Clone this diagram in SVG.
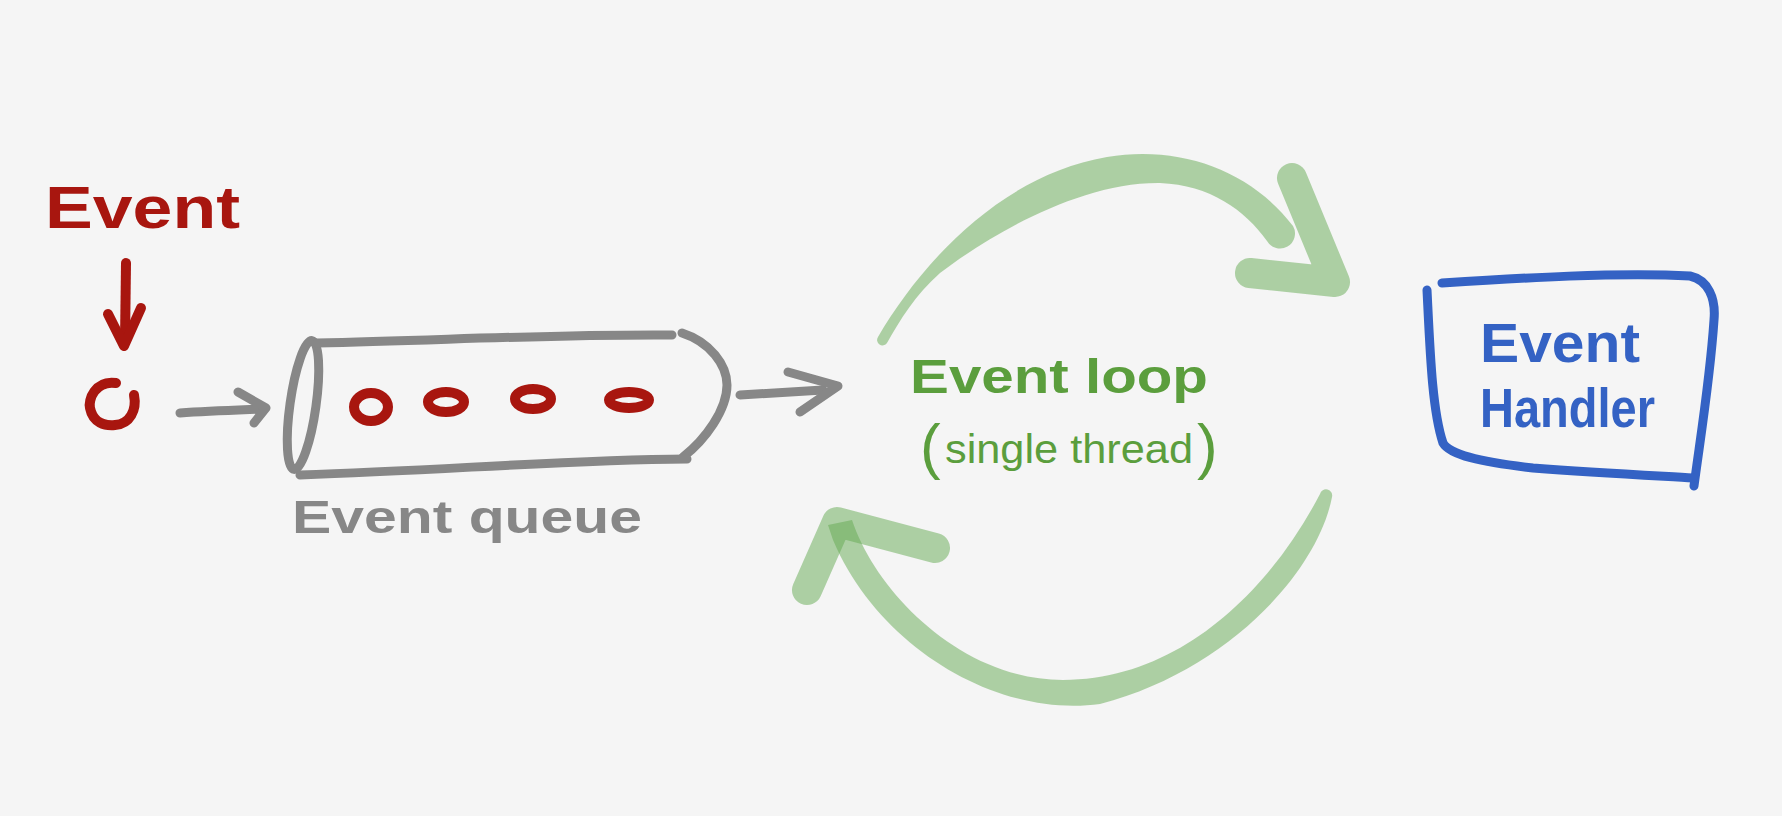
<svg xmlns="http://www.w3.org/2000/svg" width="1782" height="816" viewBox="0 0 1782 816">
<style>
.red{stroke:#a8160f;fill:none;stroke-width:10;stroke-linecap:round;stroke-linejoin:round}
.gray{stroke:#878787;fill:none;stroke-width:9;stroke-linecap:round;stroke-linejoin:round}
.blue{stroke:#3462c4;fill:none;stroke-width:9;stroke-linecap:round;stroke-linejoin:round}
.gfill{fill:#63aa52;fill-opacity:0.5;stroke:none}
.ghead{stroke:#63aa52;stroke-opacity:0.5;fill:none;stroke-width:30;stroke-linecap:round;stroke-linejoin:round}
.t{font-family:"Liberation Sans",Arial,sans-serif;font-weight:bold}
</style>
<rect width="1782" height="816" fill="#f5f5f5"/>

<g id="event">
<text class="t" x="45" y="228" font-size="60" fill="#a8160f" textLength="195" lengthAdjust="spacingAndGlyphs">Event</text>
<path class="red" d="M116,383 C95,380 88,400 90,408 C93,423 105,426 115,425 C130,424 137,410 134,395"/>
</g>

<g id="event-queue">
<ellipse class="gray" cx="303" cy="405" rx="13" ry="65" transform="rotate(8 303 405)"/>
<path class="gray" d="M317,343 C450,340 560,334 672,335"/>
<path class="gray" d="M682,333 C710,342 727,365 727,385 C727,410 705,440 683,457"/>
<path class="gray" d="M300,475 C450,470 560,460 687,459"/>
<ellipse class="red" cx="371" cy="407" rx="17" ry="14"/>
<ellipse class="red" cx="446" cy="402" rx="18" ry="10"/>
<ellipse class="red" cx="533" cy="399" rx="18" ry="10"/>
<ellipse class="red" cx="629" cy="400" rx="20" ry="8"/>
<text class="t" x="292" y="533" font-size="46" fill="#878787" textLength="350" lengthAdjust="spacingAndGlyphs">Event queue</text>
</g>

<g id="event-loop">
<text class="t" x="910" y="393" font-size="49" fill="#5b9e3d" textLength="298" lengthAdjust="spacingAndGlyphs">Event loop</text>
<text font-family="'Liberation Sans',Arial,sans-serif" fill="#5b9e3d"><tspan x="920" y="467" font-size="62">(</tspan><tspan x="945" y="463" font-size="40" textLength="248" lengthAdjust="spacingAndGlyphs">single thread</tspan><tspan x="1197" y="467" font-size="62">)</tspan></text>
<path class="gfill" d="M878,337 C920,265 1000,175 1107,157 C1180,145 1250,170 1293,226 A15,15 0 0 1 1267,241 C1245,210 1210,185 1160,183 C1080,182 990,235 940,273 C915,295 900,320 887,343 A5,5 0 0 1 878,337 Z"/>
<path class="ghead" d="M1292,178 L1335,282 L1250,273"/>
<path class="gfill" d="M1332,497 C1318,570 1230,670 1100,704 C1000,718 880,650 833,540 L828,525 L852,520 C875,590 960,680 1063,680 C1180,680 1270,590 1320,494 A6,6 0 0 1 1332,497 Z"/>
<path class="ghead" d="M807,590 L837,522 L935,548"/>
</g>

<g id="event-handler">
<path class="blue" d="M1442,283 C1520,278 1620,272 1690,276 C1708,280 1716,298 1714,320 C1710,380 1700,440 1694,486"/>
<path class="blue" d="M1427,290 C1430,350 1432,410 1443,443 C1450,455 1480,462 1533,468 C1600,473 1660,476 1693,478"/>
<text class="t" x="1480" y="362" font-size="55" fill="#3462c4" textLength="160" lengthAdjust="spacingAndGlyphs">Event</text>
<text class="t" x="1480" y="427" font-size="55" fill="#3462c4" textLength="175" lengthAdjust="spacingAndGlyphs">Handler</text>
</g>

<g id="connectors">
<path class="red" stroke-width="9" d="M126,263 L125,342"/>
<path class="red" stroke-width="9" d="M108,314 L124,346 L141,308"/>
<path class="gray" stroke-width="10" d="M180,413 C210,411 240,410 264,409"/>
<path class="gray" stroke-width="10" d="M238,392 L266,408 L254,423"/>
<path class="gray" stroke-width="10" d="M740,395 L823,390"/>
<path class="gray" stroke-width="10" d="M788,372 L838,386 L800,412"/>
</g>
</svg>
